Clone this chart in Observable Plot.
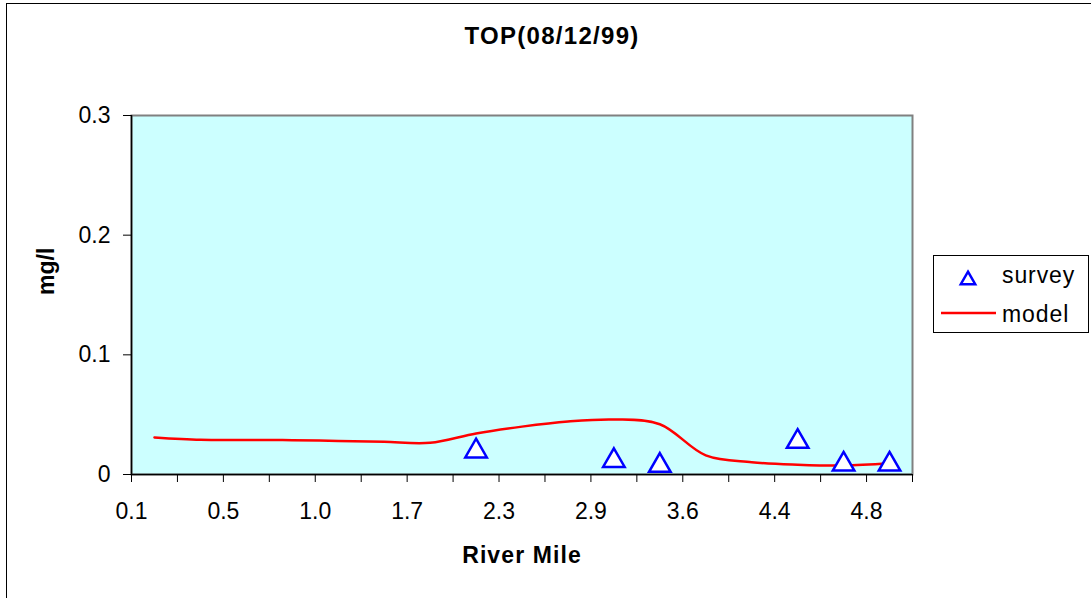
<!DOCTYPE html>
<html>
<head>
<meta charset="utf-8">
<script src="https://cdn.jsdelivr.net/npm/d3@7"></script>
<script src="https://cdn.jsdelivr.net/npm/@observablehq/plot@0.6"></script>
<style>
  html, body { margin: 0; padding: 0; background: #fff; overflow: hidden; }
  #wrap { position: relative; width: 1091px; height: 598px; overflow: hidden; font-family: "Liberation Sans", Arial, sans-serif; }
  #border { position: absolute; left: 6px; top: 3px; width: 1100px; height: 620px; border: 1px solid #000; box-sizing: border-box; }
  #chart { position: absolute; left: 0; top: 0; }
  #legend { position: absolute; left: 0; top: 0; }
</style>
</head>
<body>
<div id="wrap"><div id="border"></div><div id="chart"></div><svg id="legend" width="1091" height="598"></svg></div>
<script>
// ---- data ----
const title = "TOP(08/12/99)";
const xTitle = "River Mile";
const yTitle = "mg/l";
const xTickLabels = ["0.1", "0.5", "1.0", "1.7", "2.3", "2.9", "3.6", "4.4", "4.8"];
const yTicks = [0, 0.1, 0.2, 0.3];
const surveyPos = [7.5, 10.5, 11.5, 14.5, 15.5, 16.5];
const surveyVal = [0.022, 0.014, 0.010, 0.030, 0.011, 0.011];
const modelPos = [0.5, 1.5, 2.5, 3.5, 4.5, 5.5, 6.5, 7.5, 8.5, 9.5, 10.5, 11.5, 12.5, 13.5, 14.5, 15.5, 16.5];
const modelVal = [0.031, 0.029, 0.0288, 0.0287, 0.028, 0.0273, 0.0265, 0.0343, 0.040, 0.0443, 0.046, 0.042, 0.016, 0.0103, 0.0082, 0.0075, 0.0094];

const survey = surveyPos.map((x, i) => ({x, y: surveyVal[i]}));
const model = modelPos.map((x, i) => ({x, y: modelVal[i]}));
const xTickPos = d3.range(0, 18);

const font = "Liberation Sans, Arial, sans-serif";
const plot = Plot.plot({
  width: 1091,
  height: 598,
  marginLeft: 131,
  marginRight: 179,
  marginTop: 115,
  marginBottom: 124,
  style: {fontFamily: font, fontSize: "23px", background: "transparent", color: "#000"},
  x: {type: "linear", domain: [0, 17]},
  y: {domain: [0, 0.3]},
  marks: [
    Plot.frame({fill: "#CCFFFF", stroke: "#808080", strokeWidth: 2}),
    Plot.ruleX([0], {stroke: "#000", strokeWidth: 1.5}),
    Plot.ruleY([0], {stroke: "#000", strokeWidth: 1.5}),
    Plot.axisY({ticks: yTicks, tickSize: 8, tickPadding: 13, tickFormat: d => d === 0 ? "0" : d3.format(".1f")(d), label: null, stroke: "#000"}),
    Plot.axisX({ticks: xTickPos, tickSize: 8, tickPadding: 20, tickFormat: d => d % 2 === 0 ? xTickLabels[d / 2] : "", label: null, stroke: "#000"}),
    Plot.line(model, {x: "x", y: "y", stroke: "#FF0000", strokeWidth: 2.5, curve: "catmull-rom"}),
    Plot.dot(survey, {x: "x", y: "y", symbol: "triangle", r: 8, stroke: "#0000FF", fill: "#fff", strokeWidth: 2.5, dy: 3}),
    Plot.text([title], {frameAnchor: "top", dx: 30, dy: -79, fontWeight: "bold", fontSize: 24, lineAnchor: "middle"}),
    Plot.text([xTitle], {frameAnchor: "bottom", dy: 81, fontWeight: "bold", fontSize: 23, lineAnchor: "middle"}),
    Plot.text([yTitle], {frameAnchor: "left", dx: -85, rotate: -90, fontWeight: "bold", fontSize: 23, lineAnchor: "middle"})
  ]
});
// slight horizontal widening of titles, as in the reference
plot.querySelectorAll("text").forEach(t => {
  if (t.textContent === title) t.setAttribute("letter-spacing", "1.3");
  if (t.textContent === xTitle) t.setAttribute("letter-spacing", "1.1");
});
document.getElementById("chart").appendChild(plot);

// ---- legend ----
const lg = d3.select("#legend");
lg.append("rect").attr("x", 933.5).attr("y", 255.5).attr("width", 155).attr("height", 77)
  .attr("fill", "#fff").attr("stroke", "#000").attr("stroke-width", 1);
lg.append("path").attr("d", d3.symbol(d3.symbolTriangle, 90)()).attr("transform", "translate(968,280)")
  .attr("fill", "#fff").attr("stroke", "#0000FF").attr("stroke-width", 2.5);
lg.append("line").attr("x1", 941).attr("x2", 996).attr("y1", 313).attr("y2", 313)
  .attr("stroke", "#FF0000").attr("stroke-width", 2.5);
lg.append("text").attr("x", 1002).attr("y", 283).text("survey")
  .attr("font-family", font).attr("font-size", 23).attr("letter-spacing", "0.9");
lg.append("text").attr("x", 1002).attr("y", 322).text("model")
  .attr("font-family", font).attr("font-size", 23).attr("letter-spacing", "0.9");
</script>
</body>
</html>
